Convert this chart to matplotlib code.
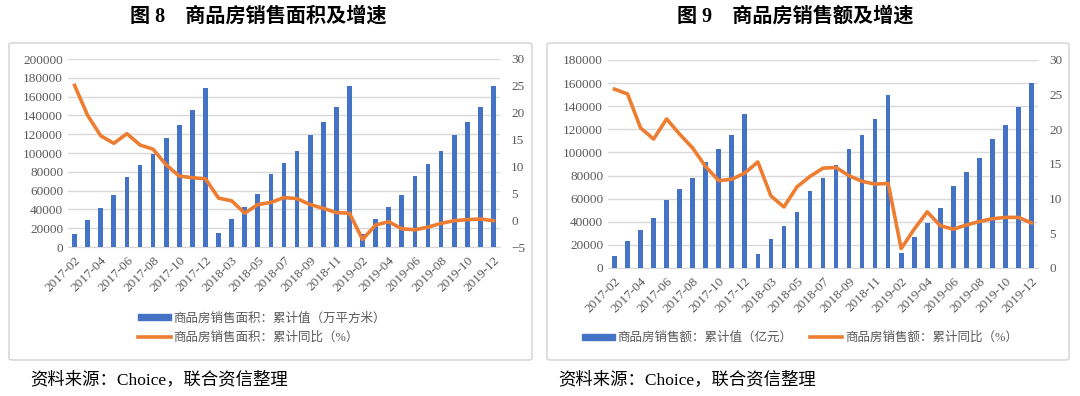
import matplotlib
matplotlib.use('Agg')
import matplotlib.pyplot as plt
from matplotlib.patches import FancyBboxPatch, Patch
from matplotlib.lines import Line2D
import numpy as np

plt.rcParams['font.family'] = ['Liberation Serif', 'Noto Sans CJK SC']

# months (Jan merged into Feb each year)
months = []
for y in (2017, 2018, 2019):
    for m in range(2, 13):
        months.append(f'{y}-{m:02d}')

# Figure 8: sales area (10k sqm) and YoY growth (%)
area_cum = [14010, 29035, 41283, 55396, 74662, 86751, 99064, 116143, 130026, 146021, 169408,
            15000, 30025, 42391, 55979, 77143, 89272, 102125, 119055, 133182, 148604, 171654,
            14102, 29829, 42098, 55518, 75786, 88394, 101849, 119179, 133251, 148905, 171558]
area_yoy = [25.1, 19.5, 15.7, 14.3, 16.1, 14.0, 13.2, 10.3, 8.2, 7.9, 7.7,
            4.1, 3.6, 1.3, 2.9, 3.3, 4.2, 4.0, 2.9, 2.2, 1.4, 1.3,
            -3.6, -0.9, -0.3, -1.6, -1.8, -1.3, -0.6, -0.1, 0.1, 0.2, -0.1]

# Figure 9: sales amount (100m yuan) and YoY growth (%)
amount_cum = [10651, 23319, 32913, 43423, 59177, 68309, 78029, 91744, 102809, 115095, 133701,
              12132, 25023, 36099, 48847, 66945, 78137, 89000, 103000, 115000, 129000, 149973,
              12803, 27039, 39034, 51773, 70698, 83126, 95305, 111756, 124079, 139601, 159725]
amount_yoy = [25.8, 25.1, 20.2, 18.6, 21.5, 19.3, 17.3, 14.6, 12.6, 12.8, 13.7,
              15.3, 10.4, 8.8, 11.7, 13.2, 14.4, 14.5, 13.3, 12.5, 12.1, 12.2,
              2.8, 5.6, 8.1, 6.1, 5.6, 6.2, 6.7, 7.1, 7.3, 7.3, 6.5]

BLUE = '#4472C4'
ORANGE = '#ED7D31'
GRID = '#D9D9D9'
TXT = '#595959'

W, H = 1080, 396
fig = plt.figure(figsize=(W / 100, H / 100), dpi=100)


def fx(px):
    return px / W


def fy(py):
    return 1 - py / H


# panel borders
for x0, x1 in ((9, 532), (547, 1069)):
    box = FancyBboxPatch((fx(x0), fy(360)), fx(x1 - x0), (360 - 43) / H,
                         boxstyle='round,pad=0,rounding_size=0.004',
                         transform=fig.transFigure, fc='none', ec='#D9D9D9', lw=1.2)
    fig.patches.append(box)


def panel(rect, bars, line, ymax, ystep, y2min):
    ax = fig.add_axes(rect)
    ax.patch.set_alpha(0)
    x = np.arange(len(months))
    ax.bar(x, bars, width=0.36, color=BLUE, zorder=3)
    ax.set_xlim(-0.5, len(months) - 0.5)
    ax.set_ylim(0, ymax)
    ax.set_yticks(np.arange(0, ymax + 1, ystep))
    ax.grid(axis='y', color=GRID, lw=1, zorder=0)
    for s in ax.spines.values():
        s.set_visible(False)
    ax.spines['bottom'].set_visible(True)
    ax.spines['bottom'].set_color(GRID)
    ax.set_xticks(x[::2])
    ax.set_xticklabels(months[::2], rotation=45, ha='right', rotation_mode='anchor')
    ax.tick_params(axis='both', length=0, labelsize=9.5, labelcolor=TXT)
    ax.tick_params(axis='x', pad=5)

    ax2 = ax.twinx()
    ax2.plot(x, line, color=ORANGE, lw=2.6, zorder=4, solid_joinstyle='round')
    ax2.set_ylim(y2min, 30)
    ax2.set_yticks(np.arange(y2min, 31, 5))
    for s in ax2.spines.values():
        s.set_visible(False)
    ax2.tick_params(axis='y', length=0, labelsize=9.5, labelcolor=TXT, pad=8)
    handles = [Patch(color=BLUE), Line2D([], [], color=ORANGE, lw=2.6)]
    return ax, handles


axL, hL = panel([fx(68), fy(247), fx(432), (247 - 59) / H], area_cum, area_yoy,
                200000, 20000, -5)
axR, hR = panel([fx(608), fy(268), fx(430), (268 - 60) / H], amount_cum, amount_yoy,
                180000, 20000, 0)

fig.legend(hL, ['商品房销售面积：累计值（万平方米）', '商品房销售面积：累计同比（%）'],
           loc='center', bbox_to_anchor=(fx(262), fy(328)), ncol=1, frameon=False,
           fontsize=9, labelcolor=TXT, handlelength=2.6, handleheight=0.35,
           handletextpad=0.2, labelspacing=0.55)
fig.legend(hR, ['商品房销售额：累计值（亿元）', '商品房销售额：累计同比（%）'],
           loc='center', bbox_to_anchor=(fx(800), fy(338)), ncol=2, frameon=False,
           fontsize=9, labelcolor=TXT, handlelength=2.6, handleheight=0.35,
           handletextpad=0.2, columnspacing=1.4)

fig.text(fx(258), fy(17), '图 8　商品房销售面积及增速', ha='center', va='center',
         fontsize=14.5, fontweight='bold', color='black')
fig.text(fx(795), fy(17), '图 9　商品房销售额及增速', ha='center', va='center',
         fontsize=14.5, fontweight='bold', color='black')
fig.text(fx(30), fy(380), '资料来源：Choice，联合资信整理', ha='left', va='center',
         fontsize=12.5, color='black')
fig.text(fx(558), fy(380), '资料来源：Choice，联合资信整理', ha='left', va='center',
         fontsize=12.5, color='black')

fig.savefig('out.png', dpi=100)
